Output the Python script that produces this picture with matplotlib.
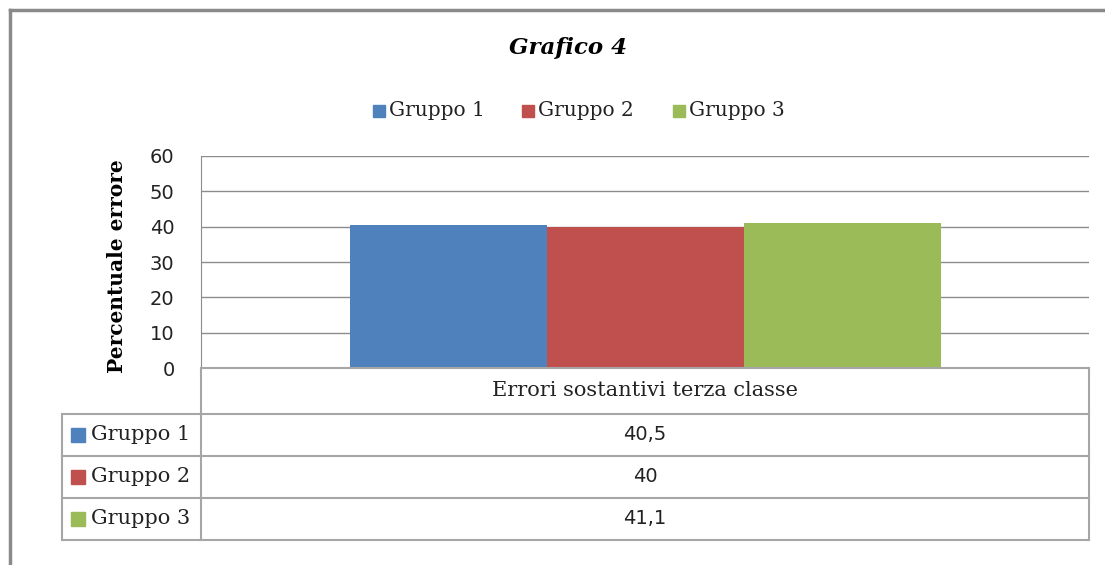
import matplotlib.pyplot as plt
from matplotlib.patches import Rectangle

# dati del grafico
categoria = 'Errori sostantivi terza classe'
gruppi = ['Gruppo 1', 'Gruppo 2', 'Gruppo 3']
valori = [40.5, 40, 41.1]
etichette_valori = ['40,5', '40', '41,1']
colori = ['#4F81BD', '#C0504D', '#9BBB59']
yticks = [0, 10, 20, 30, 40, 50, 60]

W, H = 1105, 565
fig = plt.figure(figsize=(W / 100, H / 100), dpi=100)

# area del grafico (in pixel)
x0, x1 = 201, 1089
y_top, y_zero = 156, 368
ax = fig.add_axes([x0 / W, 1 - y_zero / H, (x1 - x0) / W, (y_zero - y_top) / H])

larghezza = 197 / (x1 - x0)
for i, (g, v, c) in enumerate(zip(gruppi, valori, colori)):
    ax.bar((i - 1) * larghezza, v, width=larghezza, color=c, zorder=3, label=g)

ax.set_xlim(-0.5, 0.5)
ax.set_ylim(0, 60)
ax.set_yticks(yticks)
ax.set_yticklabels([str(t) for t in yticks], fontsize=14, family='DejaVu Sans', color='#222222')
ax.tick_params(axis='y', length=0, pad=19)
ax.set_xticks([])
ax.grid(axis='y', color='#8c8c8c', linewidth=1, zorder=0)
for s in ['top', 'right', 'bottom']:
    ax.spines[s].set_visible(False)
ax.spines['left'].set_color('#8c8c8c')

# overlay per cornice, tabella e testi
ov = fig.add_axes([0, 0, 1, 1], zorder=5)
ov.set_xlim(0, W)
ov.set_ylim(H, 0)
ov.axis('off')
ov.patch.set_alpha(0)

grigio = '#a6a6a6'
ov.plot([10, W], [10, 10], color='#8a8a8a', lw=2.5)
ov.plot([10, 10], [10, H], color='#8a8a8a', lw=2.5)

# tabella dati
righe = [368, 414, 456, 498, 540]
ov.plot([x0, x1], [righe[0], righe[0]], color=grigio, lw=1.5)
for y in righe[1:]:
    ov.plot([62, x1], [y, y], color=grigio, lw=1.5)
ov.plot([x0, x0], [righe[0], righe[-1]], color=grigio, lw=1.5)
ov.plot([x1, x1], [righe[0], righe[-1]], color=grigio, lw=1.5)
ov.plot([62, 62], [righe[1], righe[-1]], color=grigio, lw=1.5)

serif = 'DejaVu Serif'
xc = (x0 + x1) / 2
ov.text(xc, (righe[0] + righe[1]) / 2, categoria, ha='center', va='center',
        fontsize=15, family=serif, color='#222222')
for i, (g, lab, c) in enumerate(zip(gruppi, etichette_valori, colori)):
    yc = (righe[i + 1] + righe[i + 2]) / 2
    ov.add_patch(Rectangle((71, yc - 7), 14, 14, color=c))
    ov.text(91, yc, g, ha='left', va='center', fontsize=15,
            family=serif, color='#222222')
    ov.text(xc, yc, lab, ha='center', va='center', fontsize=14,
            family='DejaVu Sans', color='#222222')

# titolo, legenda, asse y
ov.text(568, 48, 'Grafico 4', ha='center', va='center', fontsize=16.5,
        family=serif, weight='bold', style='italic')
leg_x = [373, 522, 673]
for g, c, lx in zip(gruppi, colori, leg_x):
    ov.add_patch(Rectangle((lx, 105), 12, 12, color=c))
    ov.text(lx + 16, 111, g, ha='left', va='center', fontsize=14.5,
            family=serif, color='#222222')
ov.text(117, 266, 'Percentuale errore', ha='center', va='center', rotation=90,
        fontsize=14.5, family=serif, weight='bold')

fig.savefig('out.png', dpi=100)
